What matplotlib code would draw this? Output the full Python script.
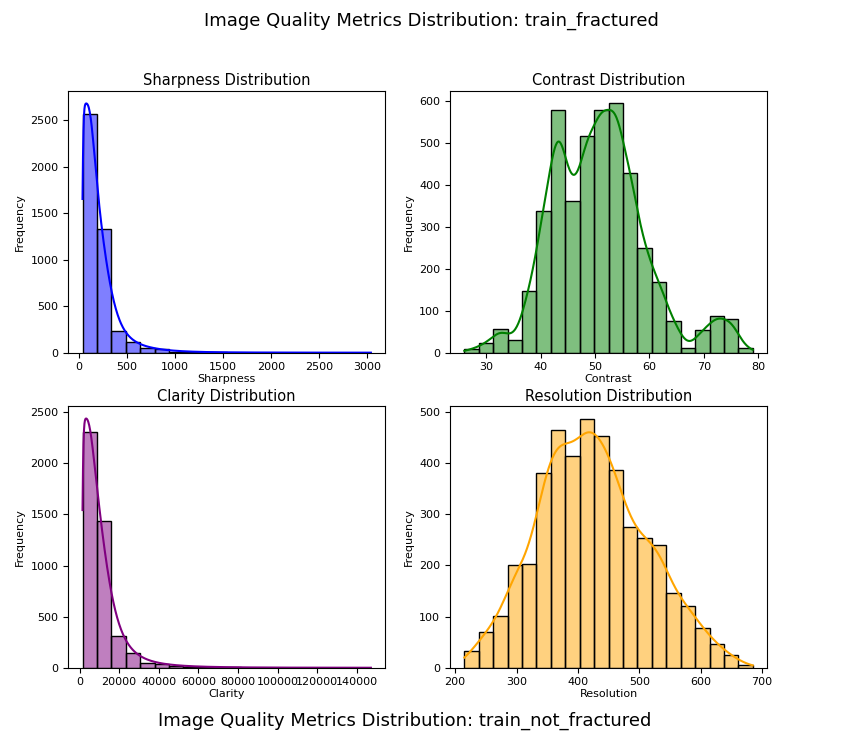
import matplotlib
matplotlib.use('Agg')
import matplotlib.pyplot as plt
import numpy as np

# bin ranges (min, max) and 20 bin counts per metric
sharpness_range = (35, 3040)
sharpness_counts = [2570, 1330, 235, 120, 50, 40, 10, 5, 5, 3, 2, 2, 1, 1, 1, 1, 0, 0, 0, 1]
contrast_range = (26, 79)
contrast_counts = [8, 22, 57, 30, 147, 338, 578, 362, 515, 578, 593, 428, 248, 168, 75, 10, 53, 87, 79, 10]
clarity_range = (1500, 147000)
clarity_counts = [2310, 1440, 315, 140, 50, 35, 20, 10, 8, 5, 3, 2, 2, 1, 1, 1, 0, 0, 0, 1]
resolution_range = (215, 685)
resolution_counts = [33, 70, 101, 200, 203, 381, 465, 414, 487, 452, 386, 276, 253, 240, 147, 121, 78, 46, 24, 6]

# (name, range, counts, colour, kde bandwidth, log-space kde)
panels = [
    ('Sharpness', sharpness_range, sharpness_counts, 'blue', 0.3, True),
    ('Contrast', contrast_range, contrast_counts, 'green', 0.6, False),
    ('Clarity', clarity_range, clarity_counts, 'purple', 0.34, True),
    ('Resolution', resolution_range, resolution_counts, 'orange', 0.8, False),
]

fig = plt.figure(figsize=(8.62, 7.52), dpi=100)
positions = [(0.079, 0.531), (0.522, 0.531), (0.079, 0.112), (0.522, 0.112)]
W, H = 0.368, 0.348

for (name, rng, counts, color, bwf, logk), (x0, y0) in zip(panels, positions):
    ax = fig.add_axes([x0, y0, W, H])
    counts = np.array(counts, dtype=float)
    edges = np.linspace(rng[0], rng[1], len(counts) + 1)
    width = edges[1] - edges[0]
    ax.bar(edges[:-1], counts, width=width, align='edge', color=color,
           alpha=0.5, edgecolor='none')
    ax.bar(edges[:-1], counts, width=width, align='edge', fill=False,
           edgecolor='black', linewidth=1)
    # smooth curve from the binned counts (weighted gaussian kde)
    xs = np.linspace(rng[0], rng[1], 600)
    if logk:
        # spread each bin's count evenly over the bin, smooth in log space
        sub = 10
        pts = (edges[:-1, None] + width * (np.arange(sub) + 0.5)[None, :] / sub).ravel()
        wts = np.repeat(counts / sub, sub)
        k = np.exp(-0.5 * ((np.log(xs)[:, None] - np.log(pts)[None, :]) / bwf) ** 2)
        dens = (wts[None, :] * k).sum(1) / (np.sqrt(2 * np.pi) * bwf * xs)
    else:
        centers = (edges[:-1] + edges[1:]) / 2
        bw = width * bwf
        k = np.exp(-0.5 * ((xs[:, None] - centers[None, :]) / bw) ** 2)
        dens = (counts[None, :] * k).sum(1) / (np.sqrt(2 * np.pi) * bw)
    ax.plot(xs, dens * width, color=color, linewidth=1.5)
    ax.set_title(f'{name} Distribution', fontsize=10.5, pad=4)
    ax.set_xlabel(name, fontsize=8, labelpad=1)
    ax.set_ylabel('Frequency', fontsize=8)
    ax.tick_params(labelsize=8)

fig.text(0.5, 0.972, 'Image Quality Metrics Distribution: train_fractured',
         ha='center', va='center', fontsize=13)
fig.text(0.47, 0.041, 'Image Quality Metrics Distribution: train_not_fractured',
         ha='center', va='center', fontsize=13)

fig.savefig('out.png', dpi=100)
